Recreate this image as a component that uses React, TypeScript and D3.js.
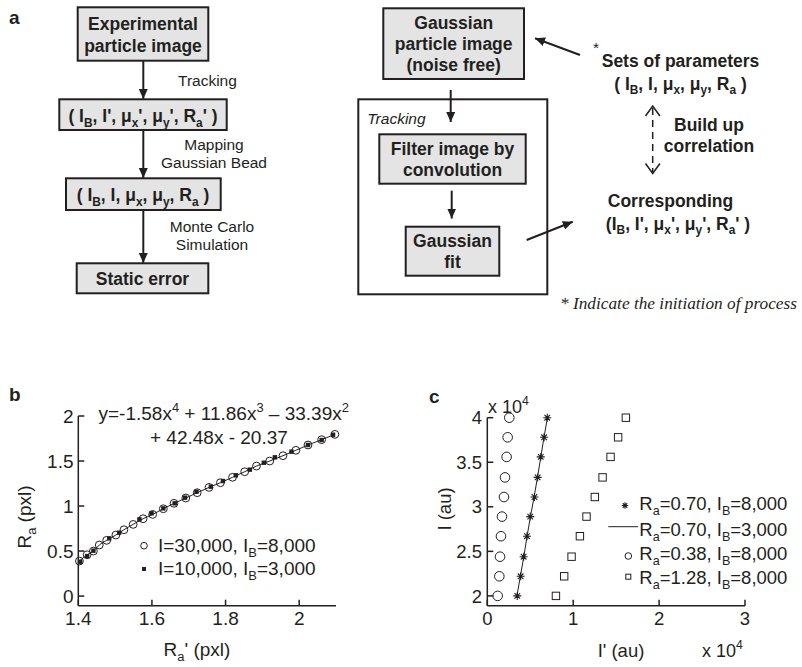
import React from "react";
import * as d3 from "d3";

// ---- panel b data (R_a' vs R_a) ----
const bTicksX = [1.4, 1.6, 1.8, 2];
const bTicksY = [0, 0.5, 1, 1.5, 2];
const openX = [1.403, 1.424, 1.441, 1.457, 1.477, 1.502, 1.524, 1.549, 1.576, 1.602, 1.631, 1.66, 1.692, 1.723, 1.755, 1.786, 1.819, 1.852, 1.884, 1.92, 1.956, 1.991, 2.024, 2.061, 2.097];
const openY = [0.389, 0.459, 0.5, 0.567, 0.619, 0.678, 0.737, 0.796, 0.859, 0.907, 0.97, 1.03, 1.089, 1.148, 1.207, 1.259, 1.319, 1.381, 1.444, 1.5, 1.559, 1.619, 1.678, 1.737, 1.796];
const filledX = [1.405, 1.424, 1.441, 1.484, 1.511, 1.566, 1.599, 1.631, 1.662, 1.69, 1.721, 1.76, 1.793, 1.828, 1.866, 1.904, 1.934, 1.979, 2.024, 2.061, 2.092];
const filledY = [0.381, 0.444, 0.504, 0.641, 0.704, 0.852, 0.919, 0.974, 1.03, 1.093, 1.159, 1.215, 1.278, 1.341, 1.404, 1.481, 1.541, 1.604, 1.678, 1.733, 1.792];

// ---- panel c data (I' vs I, both x 10^4) ----
const cTicksX = [0, 1, 2, 3];
const cTicksY = [2, 2.5, 3, 3.5, 4];
const cLevels = [2.0, 2.22, 2.44, 2.67, 2.89, 3.11, 3.33, 3.56, 3.78, 4.0];
const starX = [0.349, 0.388, 0.423, 0.462, 0.5, 0.549, 0.586, 0.622, 0.661, 0.698];
const lineX = [0.345, 0.385, 0.425, 0.463, 0.502, 0.545, 0.584, 0.623, 0.66, 0.7];
const circX = [0.121, 0.14, 0.148, 0.159, 0.171, 0.194, 0.206, 0.225, 0.237, 0.256];
const sqX = [0.799, 0.895, 0.981, 1.078, 1.155, 1.252, 1.342, 1.435, 1.523, 1.613];

const FONT = "'Liberation Sans', Arial, Helvetica, sans-serif";
const INK = "#231f20";
const BOXFILL = "#e4e4e4";

// split "I_{B}" / "x^{4}" into runs
function parse(s: string) {
  const out: { t: string; k: string }[] = [];
  const re = /([_^])\{([^}]*)\}/g;
  let last = 0;
  let m: RegExpExecArray | null;
  while ((m = re.exec(s))) {
    if (m.index > last) out.push({ t: s.slice(last, m.index), k: "n" });
    out.push({ t: m[2], k: m[1] === "_" ? "sub" : "sup" });
    last = re.lastIndex;
  }
  if (last < s.length) out.push({ t: s.slice(last), k: "n" });
  return out;
}

function Rich({ x, y, text, size, anchor = "start", weight = "normal", italic = false, family = FONT, transform }: any) {
  let off = 0;
  const spans = parse(text).map((p, i) => {
    const target = p.k === "sub" ? size * 0.28 : p.k === "sup" ? -size * 0.42 : 0;
    const dy = target - off;
    off = target;
    return (
      <tspan key={i} dy={dy} fontSize={p.k === "n" ? size : size * 0.68}>
        {p.t}
      </tspan>
    );
  });
  return (
    <text
      x={x}
      y={y}
      fontSize={size}
      fontFamily={family}
      fontWeight={weight}
      fontStyle={italic ? "italic" : "normal"}
      textAnchor={anchor}
      fill={INK}
      transform={transform}
      style={{ whiteSpace: "pre" }}
    >
      {spans}
    </text>
  );
}

function Box({ x0, y0, x1, y1, lines, cx, baselines, fill = BOXFILL }: any) {
  return (
    <g>
      <rect x={x0} y={y0} width={x1 - x0} height={y1 - y0} fill={fill} stroke={INK} strokeWidth={2} />
      {lines.map((l: string, i: number) => (
        <Rich key={i} x={cx} y={baselines[i]} text={l} size={17.5} anchor="middle" weight="bold" />
      ))}
    </g>
  );
}

function Arrow({ x1, y1, x2, y2 }: any) {
  return <line x1={x1} y1={y1} x2={x2} y2={y2} stroke={INK} strokeWidth={2} markerEnd="url(#head)" />;
}

const fmt = (v: number) => String(v);

export default function App() {
  // panel b scales
  const xB = d3.scaleLinear().domain([1.4, 2.1]).range([78.3, 336]);
  const yB = d3.scaleLinear().domain([-0.107, 2]).range([605.7, 416]);
  // panel c scales
  const xC = d3.scaleLinear().domain([0, 3]).range([487.3, 745]);
  const yC = d3.scaleLinear().domain([1.89, 4]).range([605.7, 417.7]);

  const fitLine = d3
    .line<number>()
    .x((d) => xB(d))
    .y((_, i) => yB(openY[i]))
    .curve(d3.curveMonotoneX);
  const cLine = d3
    .line<number>()
    .x((d) => xC(d))
    .y((_, i) => yC(cLevels[i]));

  const star = (cx: number, cy: number, r: number, key?: any) => (
    <path
      key={key}
      d={`M${cx - r},${cy}H${cx + r}M${cx},${cy - r}V${cy + r}M${cx - r * 0.7},${cy - r * 0.7}L${cx + r * 0.7},${cy + r * 0.7}M${cx - r * 0.7},${cy + r * 0.7}L${cx + r * 0.7},${cy - r * 0.7}`}
      stroke={INK}
      strokeWidth={1.1}
      fill="none"
    />
  );

  return (
    <svg width={802} height={667} style={{ position: "absolute", left: 0, top: 0, background: "#fff" }}>
      <defs>
        <marker id="head" viewBox="0 0 10 9" refX={10} refY={4.5} markerWidth={10} markerHeight={9} markerUnits="userSpaceOnUse" orient="auto">
          <path d="M0,0L10,4.5L0,9z" fill={INK} />
        </marker>
      </defs>
      <rect width={802} height={667} fill="#fff" />

      {/* ---------------- panel a ---------------- */}
      <text x={9} y={24} fontFamily={FONT} fontWeight="bold" fontSize={19} fill={INK}>a</text>

      <Box x0={77.7} y0={7.3} x1={208.3} y1={60.7} cx={143} lines={["Experimental", "particle image"]} baselines={[30, 51.5]} />
      <Arrow x1={143.3} y1={61} x2={143.3} y2={99} />
      <Rich x={178} y={86} text="Tracking" size={15.5} />
      <Box x0={59.3} y0={99.3} x1={226.7} y1={130} cx={143} lines={["( I_{B}, I', μ_{x}', μ_{y}', R_{a}' )"]} baselines={[122]} />
      <Arrow x1={143.3} y1={130} x2={143.3} y2={178} />
      <Rich x={214} y={150} text="Mapping" size={15.5} anchor="middle" />
      <Rich x={214} y={168} text="Gaussian Bead" size={15.5} anchor="middle" />
      <Box x0={66} y0={178.3} x1={220.7} y1={210} cx={143} lines={["( I_{B}, I, μ_{x}, μ_{y}, R_{a} )"]} baselines={[201]} />
      <Arrow x1={143.3} y1={210} x2={143.3} y2={263} />
      <Rich x={212} y={232} text="Monte Carlo" size={15.5} anchor="middle" />
      <Rich x={212} y={250} text="Simulation" size={15.5} anchor="middle" />
      <Box x0={76.7} y0={263.3} x1={208.3} y1={293.3} cx={142.5} lines={["Static error"]} baselines={[284.5]} />

      <Box x0={383.3} y0={8.3} x1={524} y1={79} cx={453.7} lines={["Gaussian", "particle image", "(noise free)"]} baselines={[29, 50, 70.5]} />
      <rect x={358.3} y={99.3} width={189} height={195} fill="none" stroke={INK} strokeWidth={2} />
      <Arrow x1={450.7} y1={90} x2={450.7} y2={122} />
      <Rich x={367.3} y={124} text="Tracking" size={15.5} italic />
      <Box x0={379.3} y0={134.3} x1={525.7} y1={183.7} cx={452.5} lines={["Filter image by", "convolution"]} baselines={[155, 176]} />
      <Arrow x1={451.7} y1={190.7} x2={451.7} y2={218.5} />
      <Box x0={405.7} y0={226.7} x1={499.3} y1={275.7} cx={452.5} lines={["Gaussian", "fit"]} baselines={[247, 268]} />
      <Arrow x1={526.7} y1={240} x2={572.7} y2={221.7} />
      <Arrow x1={580} y1={55} x2={535} y2={38.3} />

      <Rich x={593} y={53} text="*" size={15.5} />
      <Rich x={680.5} y={67} text="Sets of parameters" size={17.5} anchor="middle" weight="bold" />
      <Rich x={680.5} y={89.5} text="( I_{B}, I, μ_{x}, μ_{y}, R_{a} )" size={17.5} anchor="middle" weight="bold" />
      <line x1={652.7} y1={108} x2={652.7} y2={172} stroke={INK} strokeWidth={1.5} strokeDasharray="7,5" />
      <path d="M645.5,116L652.7,106L659.9,116M645.5,163.5L652.7,173.5L659.9,163.5" fill="none" stroke={INK} strokeWidth={1.5} />
      <Rich x={709} y={131} text="Build up" size={17.5} anchor="middle" weight="bold" />
      <Rich x={709} y={152} text="correlation" size={17.5} anchor="middle" weight="bold" />
      <Rich x={670.5} y={207} text="Corresponding" size={17.5} anchor="middle" weight="bold" />
      <Rich x={678} y={229.5} text="(I_{B}, I', μ_{x}', μ_{y}', R_{a}' )" size={17.5} anchor="middle" weight="bold" />
      <Rich x={560} y={308.5} text="* Indicate the initiation of process" size={17.3} italic family="'Liberation Serif', 'Times New Roman', serif" />

      {/* ---------------- panel b ---------------- */}
      <text x={9} y={401} fontFamily={FONT} fontWeight="bold" fontSize={19} fill={INK}>b</text>
      <g stroke={INK} strokeWidth={1.5} fill="none">
        <line x1={xB(1.4)} y1={yB(2)} x2={xB(1.4)} y2={yB(-0.107)} />
        <line x1={xB(1.4)} y1={yB(-0.107)} x2={xB(2.1)} y2={yB(-0.107)} />
        {bTicksY.map((t) => (
          <line key={t} x1={xB(1.4)} x2={xB(1.4) + 6} y1={yB(t)} y2={yB(t)} />
        ))}
        {bTicksX.map((t) => (
          <line key={t} x1={xB(t)} x2={xB(t)} y1={yB(-0.107)} y2={yB(-0.107) - 6} />
        ))}
      </g>
      {bTicksY.map((t) => (
        <text key={t} x={73.5} y={yB(t)} dy="0.36em" textAnchor="end" fontFamily={FONT} fontSize={19} fill={INK}>{fmt(t)}</text>
      ))}
      {bTicksX.map((t) => (
        <text key={t} x={xB(t)} y={625} textAnchor="middle" fontFamily={FONT} fontSize={19} fill={INK}>{fmt(t)}</text>
      ))}
      <path d={fitLine(openX) || ""} fill="none" stroke={INK} strokeWidth={1} />
      {filledX.map((v, i) => (
        <rect key={i} x={xB(v) - 2.2} y={yB(filledY[i]) - 2.2} width={4.4} height={4.4} fill={INK} />
      ))}
      {openX.map((v, i) => (
        <circle key={i} cx={xB(v)} cy={yB(openY[i])} r={3.9} fill="none" stroke={INK} strokeWidth={1} />
      ))}
      <Rich x={98.5} y={419.5} text="y=-1.58x^{4} + 11.86x^{3} – 33.39x^{2}" size={19} />
      <Rich x={150} y={443.5} text="+ 42.48x - 20.37" size={19} />
      <circle cx={144} cy={545.7} r={3.3} fill="none" stroke={INK} strokeWidth={1} />
      <Rich x={158} y={551.7} text="I=30,000, I_{B}=8,000" size={19} />
      <rect x={142} y={567} width={4} height={4} fill={INK} />
      <Rich x={158} y={575} text="I=10,000, I_{B}=3,000" size={19} />
      <Rich x={31} y={517} text="R_{a} (pxl)" size={19} anchor="middle" transform="rotate(-90 31 517)" />
      <Rich x={197} y={656} text="R_{a}' (pxl)" size={19} anchor="middle" />

      {/* ---------------- panel c ---------------- */}
      <text x={429} y={403} fontFamily={FONT} fontWeight="bold" fontSize={19} fill={INK}>c</text>
      <g stroke={INK} strokeWidth={1.5} fill="none">
        <line x1={xC(0)} y1={yC(4)} x2={xC(0)} y2={yC(1.89)} />
        <line x1={xC(0)} y1={yC(1.89)} x2={xC(3)} y2={yC(1.89)} />
        {cTicksY.map((t) => (
          <line key={t} x1={xC(0)} x2={xC(0) + 6} y1={yC(t)} y2={yC(t)} />
        ))}
        {cTicksX.map((t) => (
          <line key={t} x1={xC(t)} x2={xC(t)} y1={yC(1.89)} y2={yC(1.89) - 6} />
        ))}
      </g>
      {cTicksY.map((t) => (
        <text key={t} x={482} y={yC(t)} dy="0.36em" textAnchor="end" fontFamily={FONT} fontSize={18.5} fill={INK}>{fmt(t)}</text>
      ))}
      {cTicksX.map((t) => (
        <text key={t} x={xC(t)} y={625} textAnchor="middle" fontFamily={FONT} fontSize={18.5} fill={INK}>{fmt(t)}</text>
      ))}
      <Rich x={488} y={412.5} text="x 10^{4}" size={18} />
      <Rich x={702} y={657} text="x 10^{4}" size={18} />
      <path d={cLine(lineX) || ""} fill="none" stroke={INK} strokeWidth={1} />
      {starX.map((v, i) => star(xC(v), yC(cLevels[i]), 4, i))}
      {circX.map((v, i) => (
        <circle key={i} cx={xC(v)} cy={yC(cLevels[i])} r={4.8} fill="none" stroke={INK} strokeWidth={1} />
      ))}
      {sqX.map((v, i) => (
        <rect key={i} x={xC(v) - 3.7} y={yC(cLevels[i]) - 3.7} width={7.4} height={7.4} fill="none" stroke={INK} strokeWidth={1} />
      ))}
      {star(625, 505.5, 3.2)}
      <Rich x={639.3} y={510} text="R_{a}=0.70, I_{B}=8,000" size={18.5} />
      <line x1={608.3} x2={638} y1={526.7} y2={526.7} stroke={INK} strokeWidth={1} />
      <Rich x={639.3} y={536} text="R_{a}=0.70, I_{B}=3,000" size={18.5} />
      <circle cx={628.3} cy={556} r={3.3} fill="none" stroke={INK} strokeWidth={1} />
      <Rich x={639.3} y={560} text="R_{a}=0.38, I_{B}=8,000" size={18.5} />
      <rect x={625.8} y={574.2} width={5} height={5} fill="none" stroke={INK} strokeWidth={1} />
      <Rich x={639.3} y={583.5} text="R_{a}=1.28, I_{B}=8,000" size={18.5} />
      <Rich x={451} y={509} text="I (au)" size={18.5} anchor="middle" transform="rotate(-90 451 509)" />
      <Rich x={621} y={657} text="I' (au)" size={18.5} anchor="middle" />
    </svg>
  );
}
